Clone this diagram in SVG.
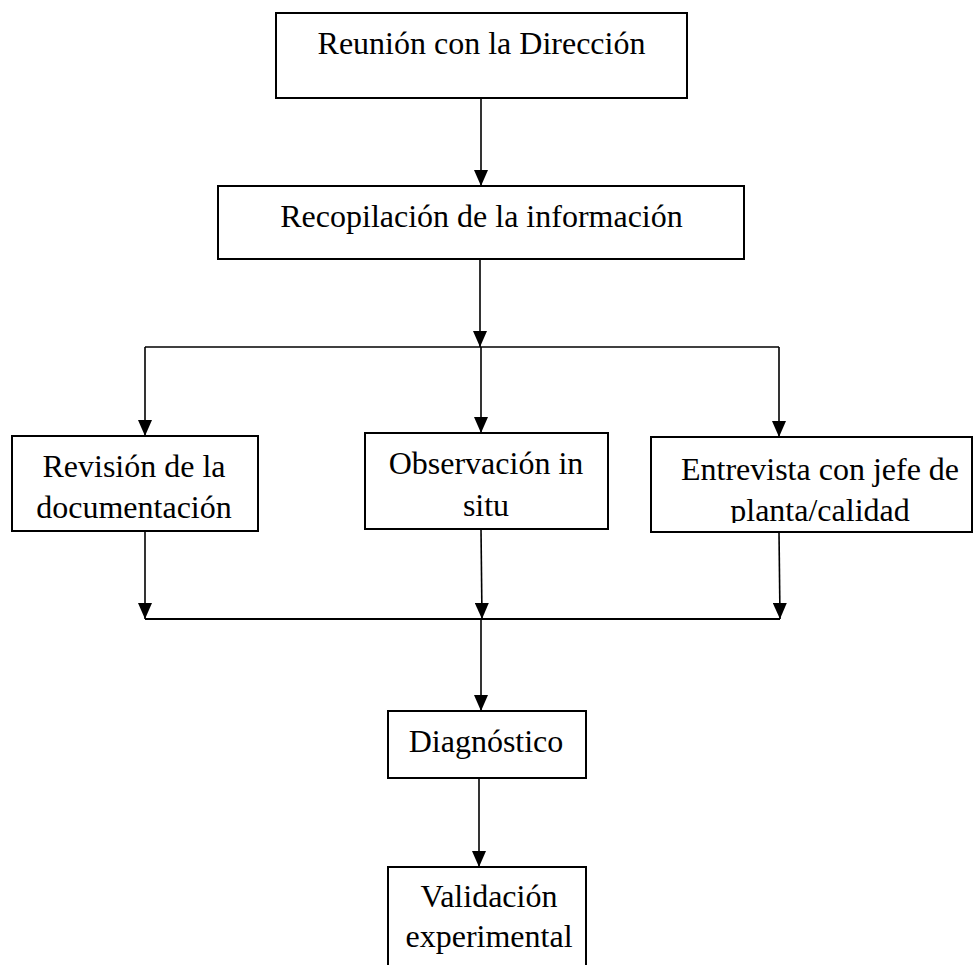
<svg xmlns="http://www.w3.org/2000/svg" width="975" height="965" viewBox="0 0 975 965">
  <style>
    .box { fill: #fff; stroke: #000; stroke-width: 2; }
    .lbl { font-family: "Liberation Serif", "Times New Roman", serif; font-size: 32px; fill: #000; text-anchor: middle; }
    .con { fill: none; stroke: #000; stroke-width: 1.6; }
    .bar { fill: none; stroke: #000; stroke-width: 2.2; }
  </style>
  <defs>
    <marker id="arr" markerUnits="userSpaceOnUse" markerWidth="16" markerHeight="14" refX="16" refY="7" orient="auto">
      <path d="M0,0 L16,7 L0,14 z" fill="#000"/>
    </marker>
    <clipPath id="clipEntrevista">
      <rect x="651" y="437" width="321" height="86"/>
    </clipPath>
  </defs>
  <rect width="975" height="965" fill="#fff"/>

  <g id="connectors">
    <line class="con" x1="481" y1="98" x2="481" y2="186" marker-end="url(#arr)"/>
    <line class="con" x1="480" y1="259" x2="480" y2="347" marker-end="url(#arr)"/>
    <line class="con" x1="145" y1="347" x2="779" y2="347"/>
    <line class="con" x1="145" y1="347" x2="145" y2="436" marker-end="url(#arr)"/>
    <line class="con" x1="481" y1="347" x2="481" y2="433" marker-end="url(#arr)"/>
    <line class="con" x1="779" y1="347" x2="779" y2="437" marker-end="url(#arr)"/>
    <line class="con" x1="145" y1="531" x2="145" y2="619" marker-end="url(#arr)"/>
    <line class="con" x1="481" y1="529" x2="482" y2="619" marker-end="url(#arr)"/>
    <line class="con" x1="779" y1="532" x2="780" y2="619" marker-end="url(#arr)"/>
    <line class="bar" x1="145" y1="619" x2="780" y2="619"/>
    <line class="con" x1="481" y1="619" x2="481" y2="711" marker-end="url(#arr)"/>
    <line class="con" x1="479" y1="778" x2="479" y2="867" marker-end="url(#arr)"/>
  </g>

  <g id="reunion">
    <rect class="box" x="276" y="13" width="411" height="85"/>
    <text class="lbl" x="481.5" y="54">Reunión con la Dirección</text>
  </g>

  <g id="recopilacion">
    <rect class="box" x="218" y="186" width="526" height="73"/>
    <text class="lbl" x="481.5" y="227">Recopilación de la información</text>
  </g>

  <g id="revision">
    <rect class="box" x="12" y="436" width="246" height="95"/>
    <text class="lbl" x="134" y="477">Revisión de la</text>
    <text class="lbl" x="134" y="518">documentación</text>
  </g>

  <g id="observacion">
    <rect class="box" x="365" y="433" width="243" height="96"/>
    <text class="lbl" x="486" y="474">Observación in</text>
    <text class="lbl" x="486" y="516">situ</text>
  </g>

  <g id="entrevista">
    <rect class="box" x="651" y="437" width="321" height="95"/>
    <g clip-path="url(#clipEntrevista)">
      <text class="lbl" x="820" y="480">Entrevista con jefe de</text>
      <text class="lbl" x="820" y="521">planta/calidad</text>
    </g>
  </g>

  <g id="diagnostico">
    <rect class="box" x="388" y="711" width="198" height="67"/>
    <text class="lbl" x="486" y="752">Diagnóstico</text>
  </g>

  <g id="validacion">
    <rect class="box" x="388" y="867" width="198" height="120"/>
    <text class="lbl" x="489" y="907">Validación</text>
    <text class="lbl" x="489" y="947">experimental</text>
  </g>
</svg>
